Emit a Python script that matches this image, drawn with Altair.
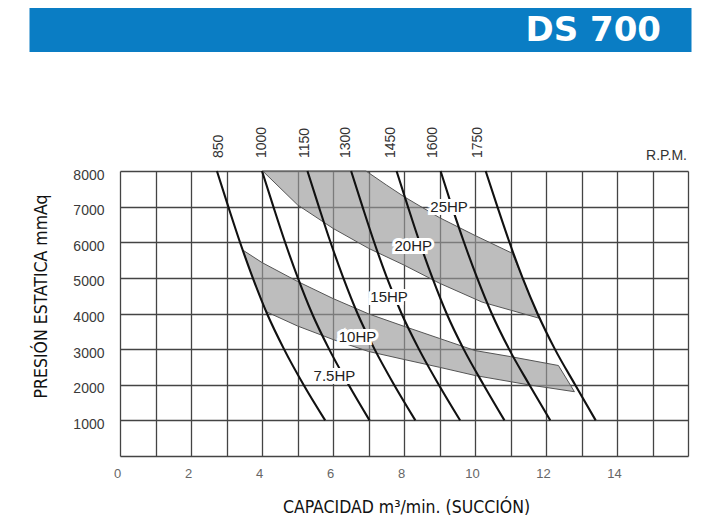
import altair as alt
import pandas as pd

# ---------------- data ----------------
rpm_values = [850, 1000, 1150, 1300, 1450, 1600, 1750]
pressure_levels = [8000, 7000, 6000, 5000, 4000, 3000, 2000, 1000]
capacity_850 = [2.73, 3.05, 3.38, 3.74, 4.14, 4.62, 5.17, 5.78]
capacity_1000 = [4.00, 4.32, 4.65, 5.01, 5.41, 5.89, 6.44, 7.03]
capacity_1150 = [5.28, 5.60, 5.93, 6.29, 6.69, 7.17, 7.72, 8.32]
capacity_1300 = [6.51, 6.83, 7.16, 7.52, 7.93, 8.42, 8.98, 9.58]
capacity_1450 = [7.79, 8.11, 8.44, 8.80, 9.20, 9.68, 10.24, 10.83]
capacity_1600 = [9.03, 9.35, 9.69, 10.06, 10.47, 10.96, 11.53, 12.12]
capacity_1750 = [10.30, 10.63, 10.97, 11.34, 11.76, 12.25, 12.82, 13.40]
rpm_label_x = [2.80, 3.99, 5.22, 6.37, 7.64, 8.83, 10.08]

# shaded power bands (polygon vertices)
band_high_x = [4.02, 6.93, 7.5, 8.0, 9.0, 10.0, 11.05, 11.34, 11.8, 11.0, 10.2, 9.0, 8.0, 7.0, 6.0, 5.0, 4.02]
band_high_y = [8000, 8000, 7610, 7280, 6690, 6190, 5690, 5000, 3870, 4095, 4320, 4850, 5360, 5830, 6390, 7050, 8000]
band_low_x = [3.46, 4.0, 5.0, 6.0, 7.0, 8.0, 9.0, 10.0, 11.0, 12.35, 12.8, 11.5, 10.0, 9.0, 8.0, 7.0, 6.0, 5.0, 4.12, 3.74, 3.46]
band_low_y = [5780, 5430, 4900, 4420, 3990, 3640, 3300, 2960, 2790, 2540, 1805, 2000, 2260, 2490, 2710, 2935, 3270, 3650, 4050, 5000, 5780]

hp_text = ["25HP", "20HP", "15HP", "10HP", "7.5HP"]
hp_x = [9.27, 8.26, 7.58, 6.69, 6.04]
hp_y = [7000, 5890, 4470, 3330, 2250]

x_ticks = list(range(0, 17))
y_ticks = list(range(0, 9000, 1000))

# ---------------- tables ----------------
curves = [capacity_850, capacity_1000, capacity_1150, capacity_1300,
          capacity_1450, capacity_1600, capacity_1750]
rows = []
for rpm, xs in zip(rpm_values, curves):
    for i, (xv, yv) in enumerate(zip(xs, pressure_levels)):
        rows.append({"rpm": rpm, "idx": i, "x": xv, "y": yv})
rpm_df = pd.DataFrame(rows)

brows = []
for name, xs, ys in [("high", band_high_x, band_high_y), ("low", band_low_x, band_low_y)]:
    for i, (xv, yv) in enumerate(zip(xs, ys)):
        brows.append({"band": name, "idx": i, "x": xv, "y": yv})
band_df = pd.DataFrame(brows)

hp_df = pd.DataFrame({"label": hp_text, "x": hp_x, "y": hp_y})
rpm_lbl_df = pd.DataFrame({"rpm": [str(r) for r in rpm_values], "x": rpm_label_x})
rpm_unit_df = pd.DataFrame({"t": ["R.P.M."], "x": [16]})
header_df = pd.DataFrame({"t": ["DS 700"]})

# ---------------- encodings ----------------
NARROW = "Liberation Sans Narrow, Arial Narrow, DejaVu Sans Condensed, sans-serif"
x_axis = alt.Axis(
    values=x_ticks, format="d",
    labelExpr="datum.value % 2 == 0 && datum.value < 16 ? datum.label : ''",
    grid=True, ticks=False, domain=False, labelFlush=False, labelOverlap=False,
    labelPadding=11, labelOffset=-3, labelColor="#666", labelFontSize=13,
    title="CAPACIDAD m³/min. (SUCCIÓN)", titleX=286, titleY=51,
    titleAlign="center", titleBaseline="middle",
)
y_axis = alt.Axis(
    values=y_ticks, format="d",
    labelExpr="datum.value > 0 ? datum.label : ''",
    grid=True, ticks=False, domain=False, labelOverlap=False,
    labelPadding=16, labelOffset=4, labelColor="#3a3a3a", labelFontSize=14,
    title="PRESIÓN ESTATICA mmAq", titleX=-79, titleY=125, titleAngle=270,
    titleAlign="center", titleBaseline="middle",
)
xs = alt.Scale(domain=[0, 16], nice=False, zero=False)
ys = alt.Scale(domain=[0, 8000], nice=False, zero=False)
xenc = alt.X("x:Q", scale=xs, axis=x_axis)
yenc = alt.Y("y:Q", scale=ys, axis=y_axis)

bands = alt.Chart(band_df).mark_line(
    fill="#9a9a9a", fillOpacity=0.65, stroke="#555555", strokeWidth=1, interpolate="linear"
).encode(x=xenc, y=yenc, detail="band:N", order="idx:Q")

lines = alt.Chart(rpm_df).mark_line(
    color="#111111", strokeWidth=2.1, interpolate="monotone"
).encode(x=xenc, y=yenc, detail="rpm:N", order="idx:Q")

hp_halo = alt.Chart(hp_df).mark_text(
    font="Liberation Sans", fontSize=15, fill="white", stroke="white", strokeWidth=6,
    strokeJoin="miter", align="center", baseline="middle"
).encode(x=xenc, y=yenc, text="label:N")
hp_txt = alt.Chart(hp_df).mark_text(
    font="Liberation Sans", fontSize=15, color="#222222", align="center", baseline="middle"
).encode(x=xenc, y=yenc, text="label:N")

rpm_lbl = alt.Chart(rpm_lbl_df).mark_text(
    font="Liberation Sans", fontSize=14, color="#333333", angle=270,
    align="left", baseline="middle"
).encode(x=xenc, y=alt.value(-13), text="rpm:N")

rpm_unit = alt.Chart(rpm_unit_df).mark_text(
    font="Liberation Sans", fontSize=14, color="#333333", align="right",
    baseline="alphabetic", dx=-1
).encode(x=xenc, y=alt.value(-11), text="t:N")

header_bar = alt.Chart(header_df).mark_rect(color="#0A7DC4").encode(
    x=alt.value(-90.5), x2=alt.value(571.5), y=alt.value(-164), y2=alt.value(-119)
)
header_txt = alt.Chart(header_df).mark_text(
    font="DejaVu Sans", fontWeight="bold", fontSize=34, color="white",
    align="right", baseline="middle"
).encode(x=alt.value(541), y=alt.value(-140), text="t:N")

chart = alt.layer(
    bands, lines, hp_halo, hp_txt, rpm_lbl, rpm_unit, header_bar, header_txt
).properties(
    width=568, height=285,
    autosize=alt.AutoSizeParams(type="none"),
    padding={"left": 112, "top": 163, "right": 30, "bottom": 60},
    background="white",
).configure_view(stroke=None).configure_axis(
    gridColor="#444444", gridWidth=1.3, gridOpacity=1,
    labelFont="Liberation Sans",
    titleFont=NARROW, titleFontSize=17.5, titleFontWeight="normal", titleColor="#111111",
)

chart.save("out.html", embed_options={"renderer": "svg", "actions": False})
